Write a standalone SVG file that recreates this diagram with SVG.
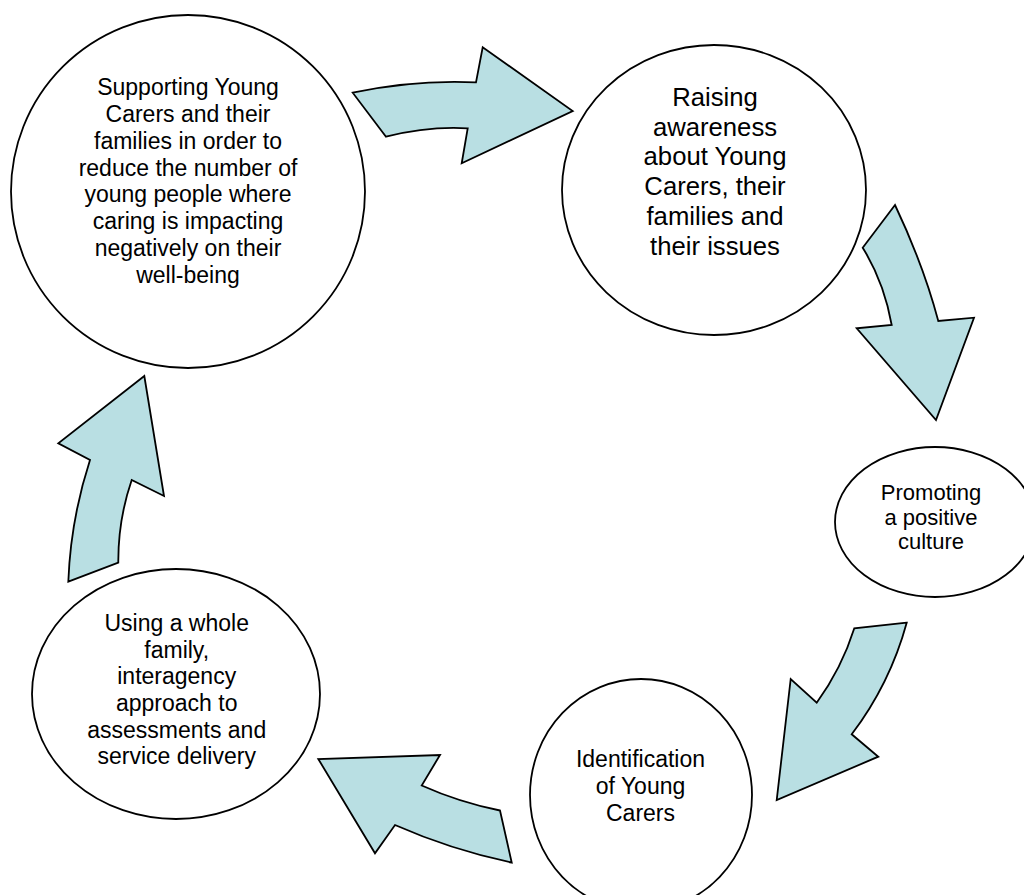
<svg xmlns="http://www.w3.org/2000/svg" width="1024" height="895" viewBox="0 0 1024 895">
<style>
.node{fill:#FFFFFF;stroke:#000000;stroke-width:1.8}
.arrow{fill:#B9DFE3;stroke:#000000;stroke-width:1.8;stroke-linejoin:miter}
text{font-family:"Liberation Sans",Arial,sans-serif;fill:#000000;text-anchor:middle}
</style>
<rect width="1024" height="895" fill="#FFFFFF"/>
<g id="connectors">
<path class="arrow" d="M352.7,92.7 Q414,79.5 476,82.3 L482.7,47.3 L572.7,111 L461.7,163.3 L467.7,128.3 Q428,126 386,136.7 Z"/>
<path class="arrow" d="M895,205 L862.7,247.7 Q884,282 891.7,325 L856.7,328.3 L936,420 L974,317.7 L938.3,321 Q923.4,265 895,205 Z"/>
<path class="arrow" d="M906.7,622.7 L854.3,628.3 Q841.6,668.6 816.7,702.7 L790.7,679 L776.7,800 L878.3,756.7 L851.7,734.3 Q890,683.8 906.7,622.7 Z"/>
<path class="arrow" d="M511.7,862.5 L500,810.5 Q459.3,802.3 421.7,785.5 L440,755 L318.3,759 L375,853.3 L395,825 Q451.5,849.9 511.7,862.5 Z"/>
<path class="arrow" d="M144.3,376 L58.3,443.3 L90,460 Q70.7,519.3 68.3,581.7 L118.3,562.7 Q118,520 131.7,480 L164,496 Z"/>
</g>
<g id="node-supporting">
<ellipse class="node" cx="188" cy="191.5" rx="177" ry="176.5"/>
<text font-size="23"><tspan x="188" y="95">Supporting Young</tspan><tspan x="188" y="121.9">Carers and their</tspan><tspan x="188" y="148.7">families in order to</tspan><tspan x="188" y="175.6">reduce the number of</tspan><tspan x="188" y="202.4">young people where</tspan><tspan x="188" y="229.3">caring is impacting</tspan><tspan x="188" y="256.1">negatively on their</tspan><tspan x="188" y="283">well-being</tspan></text>
</g>
<g id="node-raising">
<ellipse class="node" cx="714" cy="190" rx="152" ry="145"/>
<text font-size="25.7"><tspan x="715" y="106">Raising</tspan><tspan x="715" y="135.7">awareness</tspan><tspan x="715" y="165.4">about Young</tspan><tspan x="715" y="195.1">Carers, their</tspan><tspan x="715" y="224.8">families and</tspan><tspan x="715" y="254.5">their issues</tspan></text>
</g>
<g id="node-promoting">
<ellipse class="node" cx="935" cy="522" rx="100" ry="75"/>
<text font-size="22"><tspan x="931" y="500">Promoting</tspan><tspan x="931" y="524.6">a positive</tspan><tspan x="931" y="549.2">culture</tspan></text>
</g>
<g id="node-identification">
<ellipse class="node" cx="641" cy="795" rx="111" ry="116"/>
<text font-size="23"><tspan x="640.5" y="767.3">Identification</tspan><tspan x="640.5" y="794">of Young</tspan><tspan x="640.5" y="820.7">Carers</tspan></text>
</g>
<g id="node-using">
<ellipse class="node" cx="176" cy="694" rx="144" ry="125"/>
<text font-size="23"><tspan x="176.7" y="631">Using a whole</tspan><tspan x="176.7" y="657.7">family,</tspan><tspan x="176.7" y="684.3">interagency</tspan><tspan x="176.7" y="711">approach to</tspan><tspan x="176.7" y="737.7">assessments and</tspan><tspan x="176.7" y="764.3">service delivery</tspan></text>
</g>
</svg>
